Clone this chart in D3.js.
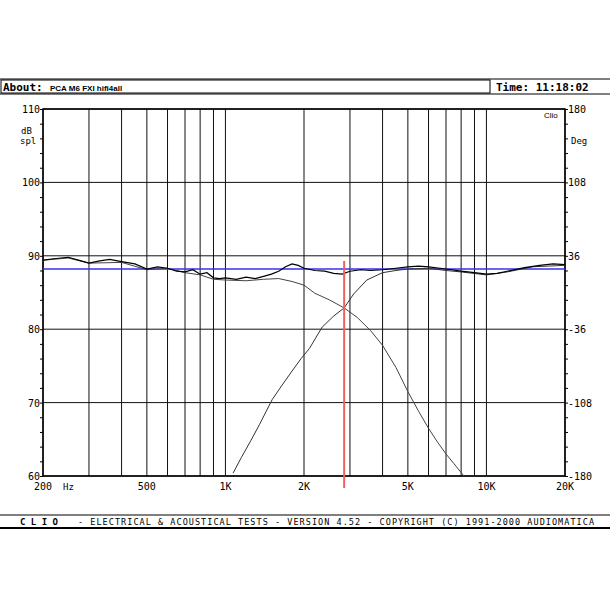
<!DOCTYPE html>
<html><head><meta charset="utf-8">
<script src="https://cdn.jsdelivr.net/npm/d3@7"></script>
<style>body{margin:0;background:#fff}</style>
</head><body>
<script>
// frequency grid and tick labels
var gridFreqs = [200,300,400,500,600,700,800,900,1000,2000,3000,4000,5000,6000,7000,8000,9000,10000,20000];
var xTickFreqs = [200,500,1000,2000,5000,10000,20000];
var xTickLabels = ["200","500","1K","2K","5K","10K","20K"];
var yTicks = [60,70,80,90,100,110];
var phaseLabels = ["-180","-108","-36","36","108","180"];

// total response (Hz, dB)
var totalF = [200,220,250,280,300,330,360,400,450,500,550,600,650,700,750,800,850,900,950,1000,1100,1200,1300,1400,1500,1600,1700,1800,1900,2000,2200,2400,2600,2800,3000,3300,3600,4000,4500,5000,5500,6000,7000,8000,9000,10000,11000,12000,14000,16000,18000,20000];
var totalDb = [89.4,89.6,89.8,89.3,89.0,89.3,89.5,89.2,88.9,88.2,88.5,88.3,87.9,87.8,88.1,87.5,87.7,87.0,86.9,87.0,86.8,87.1,86.9,87.2,87.5,87.9,88.5,88.9,88.7,88.3,88.0,87.9,87.6,87.5,87.9,88.1,88.0,88.1,88.3,88.5,88.6,88.5,88.2,87.9,87.7,87.5,87.6,87.9,88.4,88.7,88.9,88.8];
// woofer (low-pass)
var wooF = [200,250,300,400,500,600,700,800,900,1000,1200,1400,1600,1800,2000,2200,2500,2850,3200,3600,4000,4500,5000,5500,6000,6500,7000,7500,8200];
var wooDb = [89.4,89.7,89.0,89.1,88.1,88.3,87.7,87.4,86.8,86.7,86.6,86.8,86.9,86.5,86.0,84.9,84.0,82.9,81.6,79.8,77.8,74.8,71.5,68.8,66.5,64.6,63.0,61.7,60.0];
// tweeter (high-pass)
var twF = [1070,1150,1250,1350,1510,1650,1800,1950,2100,2350,2600,2850,3100,3480,4000,4500,5000,6000,7000,8000,10000,12000,15000,20000];
var twDb = [60.4,62.5,64.8,67.0,70.4,72.4,74.3,76.0,77.4,80.3,81.8,82.9,84.8,86.7,87.7,88.0,88.2,88.3,88.0,87.8,87.4,87.8,88.5,88.7];
var refLevel = 88.2;
var markerFreq = 2850;

var svg = d3.select("body").append("svg").attr("width",610).attr("height",610)
  .style("font-family","'DejaVu Sans Mono', monospace");

var x = d3.scaleLog().domain([200,20000]).range([43,565]);
var y = d3.scaleLinear().domain([60,110]).range([476,109]);
var yP = d3.scaleLinear().domain([-180,180]).range([476,109]);

// header
svg.append("line").attr("x1",0).attr("x2",610).attr("y1",79).attr("y2",79).attr("stroke","#000");
svg.append("rect").attr("x",1).attr("y",80).attr("width",489).attr("height",13).attr("fill","none").attr("stroke","#000");
svg.append("line").attr("x1",0).attr("x2",610).attr("y1",94).attr("y2",94).attr("stroke","#000");
svg.append("text").attr("x",3).attr("y",91).attr("font-size",11).attr("font-weight","bold").text("About:");
svg.append("text").attr("x",50).attr("y",91).attr("font-size",8).attr("font-weight","bold").attr("font-family","Arial, sans-serif").text("PCA M6 FXI hifi4all");
svg.append("text").attr("x",496).attr("y",91).attr("font-size",11).attr("font-weight","bold").text("Time: 11:18:02");

// footer
svg.append("line").attr("x1",0).attr("x2",610).attr("y1",515).attr("y2",515).attr("stroke","#000");
svg.append("line").attr("x1",0).attr("x2",610).attr("y1",528).attr("y2",528).attr("stroke","#000").attr("stroke-width",2);
svg.append("text").attr("x",20).attr("y",525).attr("font-size",9).attr("font-weight","bold").text("C L I O");
svg.append("text").attr("x",78).attr("y",525).attr("font-size",8.5).attr("textLength",516)
  .text("-  ELECTRICAL & ACOUSTICAL TESTS  -  VERSION 4.52  -  COPYRIGHT (C) 1991-2000 AUDIOMATICA");

// grid
svg.selectAll(".vg").data(gridFreqs).enter().append("line")
  .attr("x1",function(d){return x(d);}).attr("x2",function(d){return x(d);})
  .attr("y1",109).attr("y2",476).attr("stroke","#111").attr("stroke-width",1);
svg.selectAll(".hg").data(yTicks).enter().append("line")
  .attr("x1",43).attr("x2",565).attr("y1",function(d){return y(d);}).attr("y2",function(d){return y(d);})
  .attr("stroke","#111");
svg.append("rect").attr("x",43).attr("y",109).attr("width",522).attr("height",367).attr("fill","none").attr("stroke","#000").attr("stroke-width",1.5);

// axes
var ax = svg.append("g").attr("transform","translate(43,0)")
  .call(d3.axisLeft(y).tickValues(d3.range(60,111,2)).tickSize(3).tickFormat(""));
ax.select(".domain").remove();
var ax2 = svg.append("g").attr("transform","translate(565,0)")
  .call(d3.axisRight(y).tickValues(d3.range(60,111,2)).tickSize(3).tickFormat(""));
ax2.select(".domain").remove();
svg.selectAll(".yl").data(yTicks).enter().append("text")
  .attr("x",40).attr("y",function(d){return y(d)+4;}).attr("text-anchor","end").attr("font-size",10).text(function(d){return d;});
svg.selectAll(".pl").data(phaseLabels).enter().append("text")
  .attr("x",568).attr("y",function(d){return yP(+d)+4;}).attr("font-size",10).text(function(d){return d;});
svg.append("text").attr("x",21).attr("y",134).attr("font-size",9).text("dB");
svg.append("text").attr("x",20).attr("y",144).attr("font-size",9).text("spl");
svg.append("text").attr("x",571).attr("y",144).attr("font-size",9).text("Deg");
svg.append("text").attr("x",544).attr("y",118).attr("font-size",8).attr("font-family","Arial, sans-serif").text("Clio");
svg.selectAll(".xl").data(xTickFreqs).enter().append("text")
  .attr("x",function(d){return x(d);}).attr("y",490).attr("text-anchor","middle").attr("font-size",10)
  .text(function(d,i){return xTickLabels[i];});
svg.append("text").attr("x",63).attr("y",490).attr("font-size",9).text("Hz");

// curves
var line = d3.line().x(function(d){return x(d[0]);}).y(function(d){return y(d[1]);});
function series(f,v){return f.map(function(d,i){return [d,v[i]];});}
svg.append("line").attr("x1",43).attr("x2",565).attr("y1",y(refLevel)).attr("y2",y(refLevel)).attr("stroke","#3333ee").attr("stroke-width",1.5);
svg.append("path").attr("d",line(series(wooF,wooDb))).attr("fill","none").attr("stroke","#444").attr("stroke-width",1);
svg.append("path").attr("d",line(series(twF,twDb))).attr("fill","none").attr("stroke","#333").attr("stroke-width",1);
svg.append("path").attr("d",line(series(totalF,totalDb))).attr("fill","none").attr("stroke","#000").attr("stroke-width",1.2);
svg.append("line").attr("x1",x(markerFreq)).attr("x2",x(markerFreq)).attr("y1",261).attr("y2",488).attr("stroke","#f06060").attr("stroke-width",2);
</script>
</body></html>
